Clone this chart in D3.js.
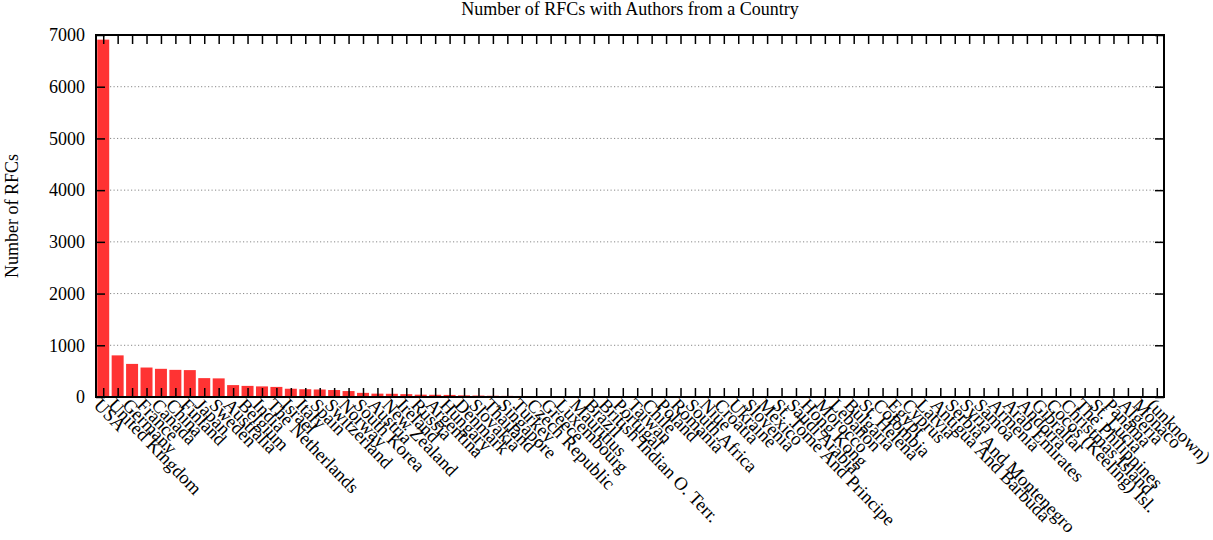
<!DOCTYPE html>
<html>
<head>
<meta charset="utf-8">
<script src="https://cdn.jsdelivr.net/npm/d3@7"></script>
<style>
	body { margin: 0; background: #fff; }
	svg { display: block; }
	svg text { font-family: 'Liberation Serif', 'Times New Roman', serif; }
</style>
</head>
<body>
<svg width="1213" height="540"></svg>
<script>

const countries = [
	'USA', 'United Kingdom', 'Germany', 'France', 'Canada', 'China', 'Finland', 'Japan',
	'Sweden', 'Australia', 'Belgium', 'India', 'The Netherlands', 'Israel', 'Italy', 'Spain',
	'Switzerland', 'Norway', 'South Korea', 'Austria', 'New Zealand', 'Ireland', 'Russia',
	'Argentina', 'Hungary', 'Denmark', 'Slovakia', 'Thailand', 'Singapore', 'Turkey',
	'Czech Republic', 'Greece', 'Luxembourg', 'Mauritius', 'Brazil', 'British Indian O. Terr.',
	'Portugal', 'Taiwan', 'Chile', 'Poland', 'Romania', 'South Africa', 'Niue', 'Croatia',
	'Ukraine', 'Slovenia', 'Mexico', 'St. Tome And Principe', 'Saudi Arabia', 'Hong Kong',
	'Morocco', 'Lebanon', 'Bulgaria', 'St. Helena', 'Colombia', 'Egypt', 'Cyprus', 'Latvia',
	'Antigua And Barbuda', 'Serbia And Montenegro', 'Syria', 'Samoa', 'Armenia', 'Arab Emirates',
	'Andorra', 'Gibraltar', 'Cocos (Keeling) Isl.', 'Christmas Island', 'The Philippines',
	'St. Lucia', 'Panama', 'Algeria', 'Monaco', '(unknown)'
]

const rfcCounts = [
	6910, 805, 640, 570, 545, 525, 520, 365,
	360, 230, 215, 205, 195, 160, 150, 145,
	135, 115, 80, 65, 62, 55, 45,
	43, 40, 32, 28, 24, 22, 20,
	17, 14, 10, 8, 7, 6,
	6, 5, 5, 5, 4, 4, 4, 3,
	3, 3, 3, 2, 2, 2,
	2, 2, 2, 2, 2, 2, 2, 1,
	1, 1, 1, 1, 1, 1,
	1, 1, 1, 1, 1,
	1, 1, 1, 1, 1
]

const yTicks = [ 0, 1000, 2000, 3000, 4000, 5000, 6000, 7000 ]

const svg = d3.select( 'svg' ),
	margin = { top: 35, right: 49, bottom: 143, left: 96 },
	width = parseInt( svg.attr( 'width' ) ) - margin.left - margin.right,
	height = parseInt( svg.attr( 'height' ) ) - margin.top - margin.bottom,
	tickLen = 9,

	x = d3.scalePoint()
		.domain( countries )
		.range( [ 0, width ] )
		.padding( 0.5 ),

	y = d3.scaleLinear()
		.domain( [ 0, 7000 ] )
		.range( [ height, 0 ] ),

	barWidth = x.step() * 0.83

const g = svg.append( 'g' )
	.attr( 'transform', `translate(${margin.left},${margin.top})` )

// gridlines
g.append( 'g' )
	.selectAll( 'line' )
	.data( yTicks.filter( d => d > 0 && d < 7000 ) )
	.enter()
	.append( 'line' )
	.attr( 'x1', 0 )
	.attr( 'x2', width )
	.attr( 'y1', d => y( d ) )
	.attr( 'y2', d => y( d ) )
	.attr( 'stroke', '#888' )
	.attr( 'stroke-width', 1 )
	.attr( 'stroke-dasharray', '1.2,2.3' )

// bars
g.append( 'g' )
	.selectAll( 'rect' )
	.data( countries )
	.enter()
	.append( 'rect' )
	.attr( 'x', d => x( d ) - barWidth / 2 )
	.attr( 'y', ( d, i ) => y( rfcCounts[ i ] ) )
	.attr( 'width', barWidth )
	.attr( 'height', ( d, i ) => height - y( rfcCounts[ i ] ) )
	.attr( 'fill', '#ff3333' )

// axes, ticks pointing inwards and mirrored
const xBottom = g.append( 'g' )
	.attr( 'transform', `translate(0,${height})` )
	.call( d3.axisBottom( x ).tickSizeInner( -tickLen ).tickSizeOuter( 0 ) )

xBottom.selectAll( 'text' )
	.attr( 'font-size', 18.5 )
	.attr( 'fill', '#000' )
	.attr( 'text-anchor', 'start' )
	.attr( 'dy', 0 )
	.attr( 'x', 0 )
	.attr( 'y', 0 )
	.attr( 'transform', 'translate(-11,9) rotate(46)' )

g.append( 'g' )
	.call( d3.axisTop( x ).tickSizeInner( -tickLen ).tickSizeOuter( 0 ).tickFormat( '' ) )

g.append( 'g' )
	.call( d3.axisLeft( y ).tickValues( yTicks ).tickFormat( d3.format( 'd' ) )
		.tickSizeInner( -tickLen ).tickSizeOuter( 0 ).tickPadding( 11 ) )
	.selectAll( 'text' )
	.attr( 'font-size', 18 )
	.attr( 'fill', '#000' )

g.append( 'g' )
	.attr( 'transform', `translate(${width},0)` )
	.call( d3.axisRight( y ).tickValues( yTicks ).tickSizeInner( -tickLen ).tickSizeOuter( 0 ).tickFormat( '' ) )

g.selectAll( '.domain' ).remove()
g.selectAll( '.tick line' )
	.attr( 'stroke', '#000' )
	.attr( 'stroke-width', 1.5 )

// frame
g.append( 'rect' )
	.attr( 'width', width )
	.attr( 'height', height )
	.attr( 'fill', 'none' )
	.attr( 'stroke', '#000' )
	.attr( 'stroke-width', 2 )

svg.append( 'text' )
	.attr( 'x', margin.left + width / 2 )
	.attr( 'y', 15 )
	.attr( 'text-anchor', 'middle' )
	.attr( 'font-size', 18 )
	.text( 'Number of RFCs with Authors from a Country' )

svg.append( 'text' )
	.attr( 'transform', `translate(18,${margin.top + height / 2}) rotate(-90)` )
	.attr( 'text-anchor', 'middle' )
	.attr( 'font-size', 18 )
	.text( 'Number of RFCs' )

</script>
</body>
</html>
